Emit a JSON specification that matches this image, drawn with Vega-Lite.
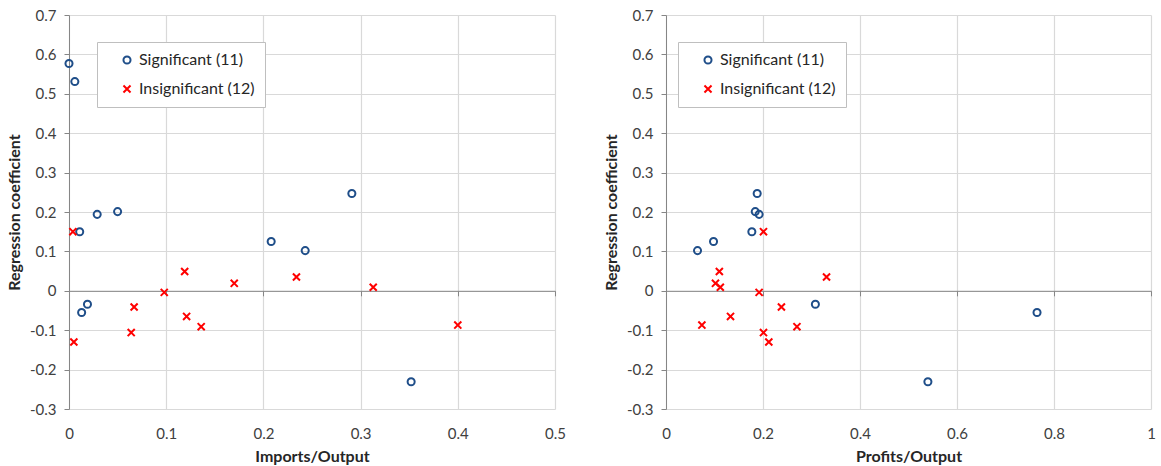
{
  "$schema": "https://vega.github.io/schema/vega-lite/v6.json",
  "background": "white",
  "padding": {"left": 6, "top": 8, "right": 0, "bottom": 0},
  "config": {
    "font": "Lato",
    "view": {"stroke": null},
    "axis": {
      "domainColor": "#868686",
      "tickColor": "#868686",
      "tickSize": 5,
      "gridColor": "#d9d9d9",
      "gridWidth": 1.2,
      "labelFlush": false,
      "labelFont": "Lato",
      "labelFontSize": 15,
      "labelColor": "#404040",
      "titleFont": "Lato",
      "titleFontSize": 16,
      "titleFontWeight": "bold",
      "titleColor": "#262626"
    },
    "legend": {
      "orient": "none",
      "legendX": 28,
      "legendY": 27,
      "direction": "vertical",
      "strokeColor": "#bfbfbf",
      "fillColor": "white",
      "padding": 10,
      "labelFont": "Lato",
      "labelFontSize": 16,
      "labelColor": "#262626",
      "rowPadding": 13,
      "symbolSize": 50,
      "symbolStrokeWidth": 2,
      "symbolOffset": 12,
      "labelOffset": 4
    }
  },
  "datasets": {
    "imports": [
      {"ratio": 0.000, "coef": 0.577, "status": "Significant (11)"},
      {"ratio": 0.006, "coef": 0.531, "status": "Significant (11)"},
      {"ratio": 0.011, "coef": 0.150, "status": "Significant (11)"},
      {"ratio": 0.029, "coef": 0.194, "status": "Significant (11)"},
      {"ratio": 0.050, "coef": 0.201, "status": "Significant (11)"},
      {"ratio": 0.013, "coef": -0.055, "status": "Significant (11)"},
      {"ratio": 0.019, "coef": -0.034, "status": "Significant (11)"},
      {"ratio": 0.208, "coef": 0.125, "status": "Significant (11)"},
      {"ratio": 0.291, "coef": 0.247, "status": "Significant (11)"},
      {"ratio": 0.243, "coef": 0.102, "status": "Significant (11)"},
      {"ratio": 0.352, "coef": -0.231, "status": "Significant (11)"},
      {"ratio": 0.004, "coef": 0.150, "status": "Insignificant (12)"},
      {"ratio": 0.005, "coef": -0.130, "status": "Insignificant (12)"},
      {"ratio": 0.064, "coef": -0.106, "status": "Insignificant (12)"},
      {"ratio": 0.067, "coef": -0.041, "status": "Insignificant (12)"},
      {"ratio": 0.098, "coef": -0.004, "status": "Insignificant (12)"},
      {"ratio": 0.119, "coef": 0.049, "status": "Insignificant (12)"},
      {"ratio": 0.121, "coef": -0.065, "status": "Insignificant (12)"},
      {"ratio": 0.136, "coef": -0.091, "status": "Insignificant (12)"},
      {"ratio": 0.170, "coef": 0.019, "status": "Insignificant (12)"},
      {"ratio": 0.234, "coef": 0.035, "status": "Insignificant (12)"},
      {"ratio": 0.313, "coef": 0.009, "status": "Insignificant (12)"},
      {"ratio": 0.400, "coef": -0.087, "status": "Insignificant (12)"}
    ],
    "profits": [
      {"ratio": 0.065, "coef": 0.102, "status": "Significant (11)"},
      {"ratio": 0.098, "coef": 0.125, "status": "Significant (11)"},
      {"ratio": 0.177, "coef": 0.150, "status": "Significant (11)"},
      {"ratio": 0.188, "coef": 0.247, "status": "Significant (11)"},
      {"ratio": 0.184, "coef": 0.201, "status": "Significant (11)"},
      {"ratio": 0.192, "coef": 0.194, "status": "Significant (11)"},
      {"ratio": 0.308, "coef": -0.034, "status": "Significant (11)"},
      {"ratio": 0.540, "coef": -0.231, "status": "Significant (11)"},
      {"ratio": 0.765, "coef": -0.055, "status": "Significant (11)"},
      {"ratio": 0.201, "coef": 0.150, "status": "Insignificant (12)"},
      {"ratio": 0.110, "coef": 0.049, "status": "Insignificant (12)"},
      {"ratio": 0.102, "coef": 0.019, "status": "Insignificant (12)"},
      {"ratio": 0.112, "coef": 0.009, "status": "Insignificant (12)"},
      {"ratio": 0.192, "coef": -0.004, "status": "Insignificant (12)"},
      {"ratio": 0.238, "coef": -0.041, "status": "Insignificant (12)"},
      {"ratio": 0.133, "coef": -0.065, "status": "Insignificant (12)"},
      {"ratio": 0.074, "coef": -0.087, "status": "Insignificant (12)"},
      {"ratio": 0.270, "coef": -0.091, "status": "Insignificant (12)"},
      {"ratio": 0.201, "coef": -0.106, "status": "Insignificant (12)"},
      {"ratio": 0.212, "coef": -0.130, "status": "Insignificant (12)"},
      {"ratio": 0.331, "coef": 0.035, "status": "Insignificant (12)"}
    ]
  },
  "resolve": {
    "scale": {"x": "independent", "y": "independent"},
    "legend": {"color": "independent", "shape": "independent"}
  },
  "spacing": 37,
  "hconcat": [
    {
      "width": 486,
      "height": 394,
      "data": {"name": "imports"},
      "mark": {"type": "point", "filled": false, "strokeWidth": 2, "size": 50, "opacity": 1},
      "encoding": {
        "x": {
          "field": "ratio", "type": "quantitative",
          "scale": {"domain": [0, 0.5], "nice": false},
          "axis": {
            "title": "Imports/Output",
            "values": [0, 0.1, 0.2, 0.3, 0.4, 0.5],
            "labelExpr": "'' + datum.value",
            "offset": -118.2,
            "labelPadding": 131,
            "titlePadding": 7
          }
        },
        "y": {
          "field": "coef", "type": "quantitative",
          "scale": {"domain": [-0.3, 0.7], "nice": false},
          "axis": {
            "title": "Regression coefficient",
            "values": [-0.3, -0.2, -0.1, 0, 0.1, 0.2, 0.3, 0.4, 0.5, 0.6, 0.7],
            "labelExpr": "'' + datum.value",
            "labelPadding": 8,
            "titlePadding": 7
          }
        },
        "color": {
          "field": "status", "type": "nominal",
          "scale": {"domain": ["Significant (11)", "Insignificant (12)"], "range": ["#1F4E89", "#FF0000"]},
          "legend": {"title": null}
        },
        "shape": {
          "field": "status", "type": "nominal",
          "scale": {"domain": ["Significant (11)", "Insignificant (12)"], "range": ["circle", "M-1,-1L1,1M-1,1L1,-1"]},
          "legend": {"title": null}
        }
      }
    },
    {
      "width": 485,
      "height": 394,
      "data": {"name": "profits"},
      "mark": {"type": "point", "filled": false, "strokeWidth": 2, "size": 50, "opacity": 1},
      "encoding": {
        "x": {
          "field": "ratio", "type": "quantitative",
          "scale": {"domain": [0, 1], "nice": false},
          "axis": {
            "title": "Profits/Output",
            "values": [0, 0.2, 0.4, 0.6, 0.8, 1],
            "labelExpr": "'' + datum.value",
            "offset": -118.2,
            "labelPadding": 131,
            "titlePadding": 7
          }
        },
        "y": {
          "field": "coef", "type": "quantitative",
          "scale": {"domain": [-0.3, 0.7], "nice": false},
          "axis": {
            "title": "Regression coefficient",
            "values": [-0.3, -0.2, -0.1, 0, 0.1, 0.2, 0.3, 0.4, 0.5, 0.6, 0.7],
            "labelExpr": "'' + datum.value",
            "labelPadding": 8,
            "titlePadding": 7
          }
        },
        "color": {
          "field": "status", "type": "nominal",
          "scale": {"domain": ["Significant (11)", "Insignificant (12)"], "range": ["#1F4E89", "#FF0000"]},
          "legend": {"title": null, "legendX": 12}
        },
        "shape": {
          "field": "status", "type": "nominal",
          "scale": {"domain": ["Significant (11)", "Insignificant (12)"], "range": ["circle", "M-1,-1L1,1M-1,1L1,-1"]},
          "legend": {"title": null, "legendX": 12}
        }
      }
    }
  ]
}
